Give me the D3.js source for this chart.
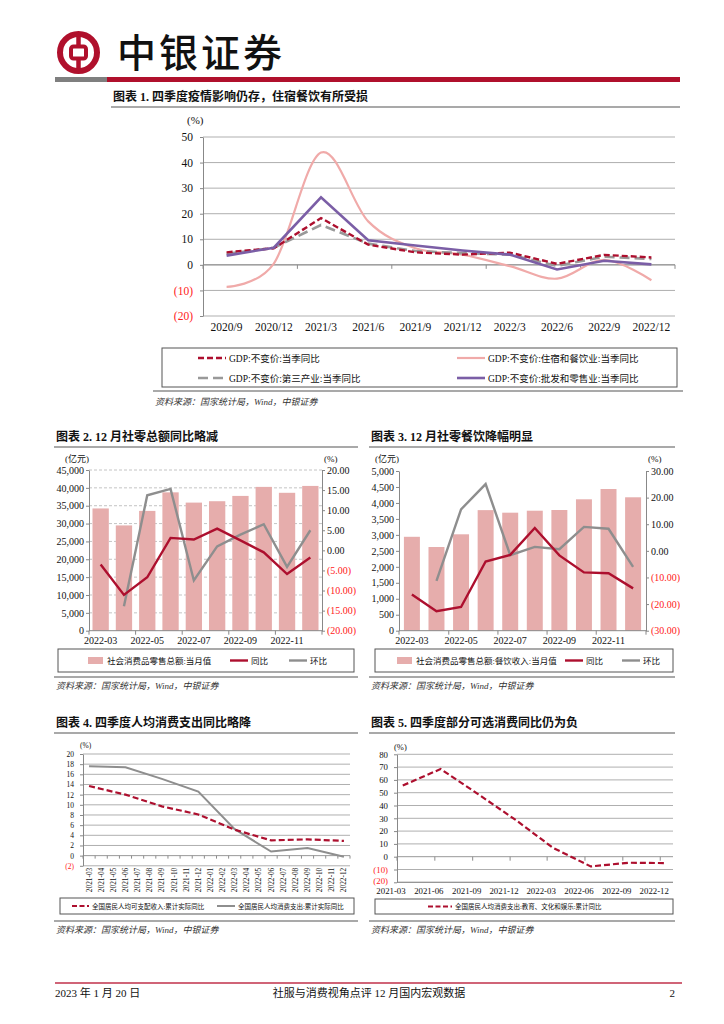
<!DOCTYPE html>
<html><head><meta charset="utf-8">
<script src="https://cdn.jsdelivr.net/npm/d3@7"></script>
<style>
body{margin:0;background:#fff}
svg text{font-family:"Liberation Serif","Noto Sans CJK SC",serif}
</style></head>
<body><svg id="page" width="724" height="1024" fill="#111"></svg>
<script>
// ---------------- DATA ----------------
const c1Quarters = ["2020/9","2020/12","2021/3","2021/6","2021/9","2021/12","2022/3","2022/6","2022/9","2022/12"];
const c1GDP      = [4.9, 6.5, 18.3, 7.9, 4.9, 4.0, 4.8, 0.4, 3.9, 2.9];
const c1Tertiary = [4.3, 6.7, 15.6, 8.3, 5.4, 4.6, 4.0, -0.4, 3.2, 2.3];
const c1Hotel    = [-8.6, 0.5, 43.9, 17.0, 6.5, 4.0, -0.5, -5.4, 2.0, -6.0];
const c1Retail   = [3.6, 6.7, 26.4, 9.6, 7.6, 5.6, 4.0, -1.8, 1.6, 0.2];
const c1Names = ["GDP:不变价:当季同比","GDP:不变价:住宿和餐饮业:当季同比","GDP:不变价:第三产业:当季同比","GDP:不变价:批发和零售业:当季同比"];

const c2Months = ["2022-03","2022-04","2022-05","2022-06","2022-07","2022-08","2022-09","2022-10","2022-11","2022-12"];
const c2Total  = [34233, 29483, 33547, 38742, 35870, 36258, 37745, 40271, 38615, 40542];
const c2YoY    = [-3.5, -11.1, -6.7, 3.1, 2.7, 5.4, 2.5, -0.5, -5.9, -1.8];
const c2MoM    = [null, -13.9, 13.7, 15.3, -7.5, 1.0, 3.9, 6.5, -4.1, 5.0];

const c3Months = c2Months;
const c3Catering = [2940, 2620, 3018, 3775, 3695, 3757, 3779, 4114, 4436, 4177];
const c3YoY      = [-16.4, -22.7, -21.1, -4.0, -1.5, 8.6, -1.7, -8.1, -8.4, -14.1];
const c3MoM      = [null, -11.3, 15.6, 25.1, -1.6, 1.5, 0.6, 9.0, 8.3, -6.0];

const c4Months = ["2021-03","2021-04","2021-05","2021-06","2021-07","2021-08","2021-09","2021-10","2021-11","2021-12",
  "2022-01","2022-02","2022-03","2022-04","2022-05","2022-06","2022-07","2022-08","2022-09","2022-10","2022-11","2022-12"];
const c4Income = {"2021-03":13.7,"2021-06":12.0,"2021-09":9.7,"2021-12":8.1,"2022-03":5.1,"2022-06":3.0,"2022-09":3.2,"2022-12":2.9};
const c4Spend  = {"2021-03":17.6,"2021-06":17.4,"2021-09":15.1,"2021-12":12.6,"2022-03":5.2,"2022-06":0.8,"2022-09":1.5,"2022-12":-0.2};

const c5Dates = ["2021-03-15","2021-06-15","2021-09-15","2021-12-15","2022-03-15","2022-06-15","2022-09-15","2022-12-15"];
const c5Edu   = [55.6, 68.5, 48.7, 28.6, 7.0, -7.6, -4.7, -5.0];
const c5TickLabels = ["2021-03","2021-06","2021-09","2021-12","2022-03","2022-06","2022-09","2022-12"];

// ---------------- STYLE ----------------
const RED = "#ad0f2e", PINK = "#f0aaa9", BAR = "#e6adac", GRAY = "#999999", PURPLE = "#7b5ea6", NEG = "#ff1a1a";
const svg = d3.select("#page");
const paren = fmt => v => v < 0 ? "(" + d3.format(fmt)(-v) + ")" : d3.format(fmt)(v);
const source = "资料来源：国家统计局，Wind，中银证券";

function styleAxis(sel, size, negRed=true){
  sel.attr("font-family",null);
  sel.select(".domain").attr("stroke","#888");
  sel.selectAll(".tick line").attr("stroke","#888");
  sel.selectAll(".tick text").attr("font-size",size).style("fill", d => (negRed && d < 0) ? NEG : "#111");
}
function title(x,y,t,x2){
  svg.append("text").attr("x",x).attr("y",y).attr("font-size",12).attr("font-weight",700).text(t);
  svg.append("line").attr("x1",x-2).attr("x2",x2).attr("y1",y+6).attr("y2",y+6).attr("stroke","#8c8c8c").attr("stroke-width",1.6);
}
function src(x,y,x1,x2,lineY){
  svg.append("line").attr("x1",x1).attr("x2",x2).attr("y1",lineY).attr("y2",lineY).attr("stroke","#8c8c8c").attr("stroke-width",1.4);
  svg.append("text").attr("x",x).attr("y",y).attr("font-size",9).attr("font-style","italic").style("fill","#333").text(source);
}

// ---------------- HEADER ----------------
const hdr = svg.append("g");
hdr.append("circle").attr("cx",78.5).attr("cy",52.5).attr("r",18.5).attr("fill","none").attr("stroke","#b0102c").attr("stroke-width",6);
hdr.append("rect").attr("x",71).attr("y",46.5).attr("width",15).attr("height",12).attr("rx",2.5).attr("fill","none").attr("stroke","#b0102c").attr("stroke-width",4);
hdr.append("line").attr("x1",78.5).attr("x2",78.5).attr("y1",33).attr("y2",45).attr("stroke","#b0102c").attr("stroke-width",4.5);
hdr.append("line").attr("x1",78.5).attr("x2",78.5).attr("y1",60).attr("y2",72).attr("stroke","#b0102c").attr("stroke-width",4.5);
hdr.append("text").attr("x",117).attr("y",67).attr("font-size",39).attr("letter-spacing",3).attr("font-weight",500).text("中银证券");
hdr.append("rect").attr("x",55).attr("y",77).attr("width",52).attr("height",5).attr("fill","#7f7f7f");
hdr.append("rect").attr("x",107).attr("y",77).attr("width",573).attr("height",5).attr("fill","#b0102c");

// ---------------- CHART 1 ----------------
(function(){
  title(113,101,"图表 1. 四季度疫情影响仍存，住宿餐饮有所受损",680);
  const L=203,R=675,T=137,B=316;
  const x = d3.scaleBand().domain(c1Quarters).range([L,R]);
  const y = d3.scaleLinear().domain([-20,50]).range([B,T]);
  const g = svg.append("g");
  const ticks = d3.range(-20,51,10);
  g.selectAll(".grid").data(ticks).join("line").attr("x1",L).attr("x2",R).attr("y1",y).attr("y2",y)
    .attr("stroke","#a6a6a6").attr("stroke-width",0.9);
  const ax = g.append("g").attr("transform",`translate(${L},0)`).call(d3.axisLeft(y).tickValues(ticks).tickFormat(paren("d")).tickSize(3).tickSizeOuter(0).tickPadding(7));
  styleAxis(ax,11.5);
  g.append("line").attr("x1",L).attr("x2",R).attr("y1",y(0)).attr("y2",y(0)).attr("stroke","#8c8c8c");
  g.selectAll(".xt").data(d3.range(0,c1Quarters.length+1,2)).join("line")
    .attr("x1",i=>L+i*x.step()).attr("x2",i=>L+i*x.step()).attr("y1",y(0)).attr("y2",y(0)+4).attr("stroke","#8c8c8c");
  g.selectAll(".xl").data(c1Quarters).join("text").attr("x",d=>x(d)+x.bandwidth()/2).attr("y",B+15)
    .attr("text-anchor","middle").attr("font-size",11.5).text(d=>d);
  g.append("text").attr("x",187).attr("y",124).attr("font-size",11).text("(%)");
  const cx = (d,i)=>x(c1Quarters[i])+x.bandwidth()/2;
  const draw = (vals,color,w,dash,curve)=>g.append("path").datum(vals)
    .attr("d",d3.line().x(cx).y(v=>y(v)).curve(curve||d3.curveLinear))
    .attr("fill","none").attr("stroke",color).attr("stroke-width",w).attr("stroke-dasharray",dash||null);
  draw(c1Hotel,PINK,2.2,null,d3.curveCardinal.tension(0));
  draw(c1Tertiary,GRAY,2.6,"10,5");
  draw(c1GDP,RED,2.4,"6,3");
  draw(c1Retail,PURPLE,2.6);
  const lg = svg.append("g");
  lg.append("rect").attr("x",162).attr("y",348).attr("width",515).attr("height",39).attr("fill","none").attr("stroke","#555").attr("stroke-width",1);
  const items = [
    {x:198,y:358,c:RED,dash:"6,3",w:2.4},
    {x:457,y:358,c:PINK,dash:null,w:2.2},
    {x:198,y:378,c:GRAY,dash:"10,5",w:2.6},
    {x:457,y:378,c:PURPLE,dash:null,w:2.6}];
  items.forEach((it,i)=>{
    lg.append("line").attr("x1",it.x).attr("x2",it.x+28).attr("y1",it.y).attr("y2",it.y).attr("stroke",it.c).attr("stroke-width",it.w).attr("stroke-dasharray",it.dash);
    lg.append("text").attr("x",it.x+31).attr("y",it.y+3.5).attr("font-size",9.5).text(c1Names[i]);
  });
  src(155,405,153,683,391);
})();

// ---------------- CHART 2 & 3 ----------------
function barLine(o){
  title(o.tx,441,o.title,o.tx2);
  const x = d3.scaleBand().domain(o.months).range([o.L,o.R]).paddingInner(o.pi).paddingOuter(o.po);
  const yL = d3.scaleLinear().domain([0,o.maxL]).range([o.B,o.T]);
  const yR = d3.scaleLinear().domain([-o.maxR,o.maxR]).range([o.B,o.T]);
  const g = svg.append("g");
  const lt = d3.range(0,o.maxL+1,o.stepL);
  if(o.grid) g.selectAll(".grid").data(lt.slice(1)).join("line").attr("x1",o.L).attr("x2",o.R).attr("y1",yL).attr("y2",yL)
    .attr("stroke","#b5b5b5").attr("stroke-width",0.8).attr("stroke-dasharray","3,2");
  g.selectAll(".bar").data(o.bars).join("rect").attr("x",(d,i)=>x(o.months[i])).attr("width",x.bandwidth())
    .attr("y",d=>yL(d)).attr("height",d=>yL(0)-yL(d)).attr("fill",BAR);
  const al = g.append("g").attr("transform",`translate(${o.L},0)`).call(d3.axisLeft(yL).tickValues(lt).tickFormat(d3.format(",")).tickSize(3).tickSizeOuter(0).tickPadding(2));
  styleAxis(al,10);
  const ar = g.append("g").attr("transform",`translate(${o.R},0)`).call(d3.axisRight(yR).tickValues(d3.range(-o.maxR,o.maxR+0.1,o.stepR)).tickFormat(paren(".2f")).tickSize(3).tickSizeOuter(0).tickPadding(2));
  styleAxis(ar,10);
  g.append("line").attr("x1",o.L).attr("x2",o.R).attr("y1",o.B).attr("y2",o.B).attr("stroke","#888");
  const bx = i => i===0 ? o.L : (i===o.months.length ? o.R : x(o.months[i]) - x.step()*x.paddingInner()/2);
  g.selectAll(".xt").data(d3.range(0,o.months.length+1,2)).join("line")
    .attr("x1",bx).attr("x2",bx).attr("y1",o.B).attr("y2",o.B+4).attr("stroke","#888");
  g.selectAll(".xl").data(o.months.filter((d,i)=>i%2===0)).join("text")
    .attr("x",d=>x(d)+x.bandwidth()/2).attr("y",o.B+13).attr("text-anchor","middle").attr("font-size",10).text(d=>d);
  g.append("text").attr("x",o.L-24).attr("y",462).attr("font-size",9).text("(亿元)");
  g.append("text").attr("x",o.R+2).attr("y",462).attr("font-size",9).text("(%)");
  const cx = (d,i)=>x(o.months[i])+x.bandwidth()/2;
  const ln = d3.line().defined(v=>v!=null).x(cx).y(v=>yR(v));
  g.append("path").datum(o.mom).attr("d",ln).attr("fill","none").attr("stroke","#8e8e8e").attr("stroke-width",2.4);
  g.append("path").datum(o.yoy).attr("d",ln).attr("fill","none").attr("stroke",RED).attr("stroke-width",2.4);
  const lg = svg.append("g");
  lg.append("rect").attr("x",o.bx).attr("y",649).attr("width",o.bw).attr("height",23).attr("fill","none").attr("stroke","#555");
  lg.append("rect").attr("x",o.sx).attr("y",657).attr("width",15).attr("height",7).attr("fill",BAR);
  lg.append("text").attr("x",o.sx+19).attr("y",664).attr("font-size",8.5).text(o.barName);
  lg.append("line").attr("x1",o.rx).attr("x2",o.rx+18).attr("y1",660.5).attr("y2",660.5).attr("stroke",RED).attr("stroke-width",2.4);
  lg.append("text").attr("x",o.rx+21).attr("y",664).attr("font-size",8.5).text("同比");
  lg.append("line").attr("x1",o.gx).attr("x2",o.gx+18).attr("y1",660.5).attr("y2",660.5).attr("stroke","#8e8e8e").attr("stroke-width",2.4);
  lg.append("text").attr("x",o.gx+21).attr("y",664).attr("font-size",8.5).text("环比");
  src(o.tx,689,o.tx-2,o.tx2,677);
}
barLine({title:"图表 2. 12 月社零总额同比略减",tx:56,tx2:358,months:c2Months,bars:c2Total,yoy:c2YoY,mom:c2MoM,
  L:89,R:322,T:470,B:630.7,pi:0.3,po:0.15,maxL:45000,stepL:5000,maxR:20,stepR:5,grid:true,
  bx:58,bw:296,sx:88,rx:230,gx:289,barName:"社会消费品零售总额:当月值"});
barLine({title:"图表 3. 12 月社零餐饮降幅明显",tx:371,tx2:675,months:c3Months,bars:c3Catering,yoy:c3YoY,mom:c3MoM,
  L:399,R:646,T:471,B:630.7,pi:0.35,po:0.2,maxL:5000,stepL:500,maxR:30,stepR:10,grid:false,
  bx:375,bw:298,sx:397,rx:565,gx:622,barName:"社会消费品零售总额:餐饮收入:当月值"});

// ---------------- CHART 4 ----------------
(function(){
  title(56,727,"图表 4. 四季度人均消费支出同比略降",358);
  const L=83,R=350,T=754,B=865.8;
  const x = d3.scaleBand().domain(c4Months).range([L,R]);
  const y = d3.scaleLinear().domain([-2,20]).range([B,T]);
  const g = svg.append("g");
  const ticks = d3.range(-2,21,2);
  g.selectAll(".grid").data(ticks).join("line").attr("x1",L).attr("x2",R).attr("y1",y).attr("y2",y)
    .attr("stroke",d=>d===0?"#8c8c8c":"#a6a6a6").attr("stroke-width",0.9);
  const ax = g.append("g").attr("transform",`translate(${L},0)`).call(d3.axisLeft(y).tickValues(ticks).tickFormat(paren("d")).tickSize(3).tickSizeOuter(0).tickPadding(6));
  styleAxis(ax,7.5);
  g.selectAll(".xt").data(d3.range(0,c4Months.length+1)).join("line")
    .attr("x1",i=>L+i*x.step()).attr("x2",i=>L+i*x.step()).attr("y1",y(0)).attr("y2",y(0)+3).attr("stroke","#8c8c8c");
  g.selectAll(".xl").data(c4Months).join("text")
    .attr("transform",d=>`translate(${x(d)+x.bandwidth()/2+2.5},${B+2}) rotate(-90)`)
    .attr("text-anchor","end").attr("font-size",7.3).text(d=>d);
  g.append("text").attr("x",80).attr("y",748).attr("font-size",7.5).text("(%)");
  const pts = obj => c4Months.filter(m=>obj[m]!=null).map(m=>[x(m)+x.bandwidth()/2, y(obj[m])]);
  g.append("path").datum(pts(c4Spend)).attr("d",d3.line()).attr("fill","none").attr("stroke","#8e8e8e").attr("stroke-width",2);
  g.append("path").datum(pts(c4Income)).attr("d",d3.line()).attr("fill","none").attr("stroke",RED).attr("stroke-width",2.2).attr("stroke-dasharray","6,3");
  const lg = svg.append("g");
  lg.append("rect").attr("x",60).attr("y",898).attr("width",294).attr("height",16).attr("fill","none").attr("stroke","#555");
  lg.append("line").attr("x1",72).attr("x2",89).attr("y1",906).attr("y2",906).attr("stroke",RED).attr("stroke-width",2.2).attr("stroke-dasharray","5,2.5");
  lg.append("text").attr("x",92).attr("y",908.5).attr("font-size",6.5).text("全国居民人均可支配收入:累计实际同比");
  lg.append("line").attr("x1",217).attr("x2",235).attr("y1",906).attr("y2",906).attr("stroke","#8e8e8e").attr("stroke-width",2);
  lg.append("text").attr("x",238).attr("y",908.5).attr("font-size",6.5).text("全国居民人均消费支出:累计实际同比");
  src(56,933,54,358,921);
})();

// ---------------- CHART 5 ----------------
(function(){
  title(371,727,"图表 5. 四季度部分可选消费同比仍为负",675);
  const L=397,R=673,T=754.3,B=882.3;
  const parse = d3.timeParse("%Y-%m-%d");
  const x = d3.scaleTime().domain([parse("2021-03-01"),parse("2023-01-01")]).range([L,R]);
  const y = d3.scaleLinear().domain([-20,80]).range([B,T]);
  const g = svg.append("g");
  const ticks = d3.range(-20,81,10);
  g.selectAll(".grid").data(ticks).join("line").attr("x1",L).attr("x2",R).attr("y1",y).attr("y2",y)
    .attr("stroke",d=>d===0?"#8c8c8c":"#a6a6a6").attr("stroke-width",0.9);
  const ax = g.append("g").attr("transform",`translate(${L},0)`).call(d3.axisLeft(y).tickValues(ticks).tickFormat(paren("d")).tickSize(3).tickSizeOuter(0).tickPadding(6));
  styleAxis(ax,8.8);
  ax.selectAll(".tick text").filter(d=>d===-20).attr("dy","0.1em");
  const tickDates = c5TickLabels.map(s=>parse(s+"-01"));
  g.append("line").attr("x1",L).attr("x2",R).attr("y1",B).attr("y2",B).attr("stroke","#8c8c8c");
  g.selectAll(".xt").data(tickDates).join("line").attr("x1",x).attr("x2",x).attr("y1",y(0)).attr("y2",y(0)+4).attr("stroke","#8c8c8c");
  g.selectAll(".xl").data(tickDates).join("text").attr("x",d=>x(d)-6).attr("y",B+12).attr("text-anchor","middle")
    .attr("font-size",8.8).text((d,i)=>c5TickLabels[i]);
  g.append("text").attr("x",394).attr("y",750).attr("font-size",8.5).text("(%)");
  g.append("path").datum(c5Dates.map((d,i)=>[x(parse(d)),y(c5Edu[i])])).attr("d",d3.line())
    .attr("fill","none").attr("stroke",RED).attr("stroke-width",2.2).attr("stroke-dasharray","6,3");
  const lg = svg.append("g");
  lg.append("rect").attr("x",375).attr("y",899).attr("width",298).attr("height",15).attr("fill","none").attr("stroke","#555");
  lg.append("line").attr("x1",428).attr("x2",452).attr("y1",906.5).attr("y2",906.5).attr("stroke",RED).attr("stroke-width",2.2).attr("stroke-dasharray","5,2.5");
  lg.append("text").attr("x",455).attr("y",909).attr("font-size",6.5).text("全国居民人均消费支出:教育、文化和娱乐:累计同比");
  src(371,933,369,675,921);
})();

// ---------------- FOOTER ----------------
svg.append("line").attr("x1",55).attr("x2",682).attr("y1",983).attr("y2",983).attr("stroke","#c0304a").attr("stroke-width",1.6);
svg.append("text").attr("x",55).attr("y",997).attr("font-size",11).text("2023 年 1 月 20 日");
svg.append("text").attr("x",369).attr("y",997).attr("text-anchor","middle").attr("font-size",11).text("社服与消费视角点评 12 月国内宏观数据");
svg.append("text").attr("x",675).attr("y",997).attr("text-anchor","end").attr("font-size",11).text("2");
</script></body></html>
